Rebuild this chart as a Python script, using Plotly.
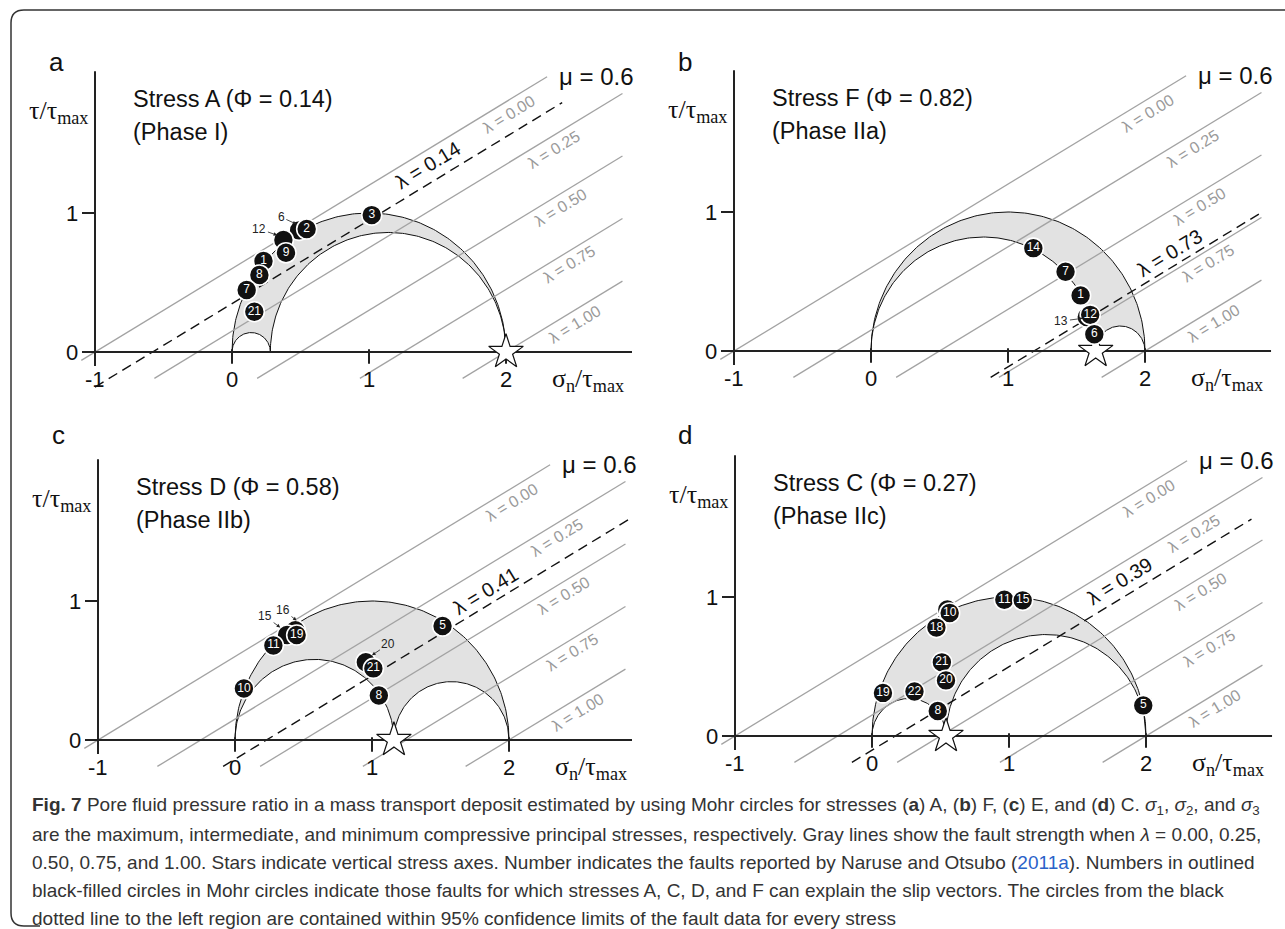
import numpy as np
import plotly.graph_objects as go

W, H = 1285, 929

# ---------------- data ----------------
panel_letters = ['a', 'b', 'c', 'd']
stress_names = ['A', 'F', 'D', 'C']
phi_values = [0.14, 0.82, 0.58, 0.27]
phase_names = ['I', 'IIa', 'IIb', 'IIc']
lambda_fit = [0.14, 0.73, 0.41, 0.39]
star_sigma = [2.0, 1.64, 1.16, 0.54]
lambda_grid = [0.00, 0.25, 0.50, 0.75, 1.00]
mu = 0.6
x_ticks = [-1, 0, 1, 2]
y_ticks = [0, 1]

# faults (label, sigma_n, tau); '' = number given by call-out
a_ids = ['', '2', '', '9', '1', '8', '7', '21', '3']
a_x = [0.49, 0.545, 0.375, 0.394, 0.23, 0.20, 0.107, 0.163, 1.02]
a_y = [0.875, 0.885, 0.806, 0.714, 0.655, 0.554, 0.446, 0.29, 0.985]

b_ids = ['14', '7', '1', '', '12', '6']
b_x = [1.185, 1.42, 1.53, 1.575, 1.60, 1.63]
b_y = [0.74, 0.57, 0.40, 0.245, 0.26, 0.12]

c_ids = ['', '', '19', '11', '10', '5', '', '21', '8']
c_x = [0.44, 0.38, 0.45, 0.28, 0.065, 1.515, 0.955, 1.01, 1.05]
c_y = [0.79, 0.755, 0.755, 0.68, 0.37, 0.82, 0.56, 0.515, 0.32]

d_ids = ['', '10', '18', '11', '15', '21', '20', '22', '19', '8', '5']
d_x = [0.55, 0.567, 0.47, 0.966, 1.10, 0.51, 0.54, 0.31, 0.08, 0.48, 1.98]
d_y = [0.91, 0.885, 0.78, 0.98, 0.976, 0.53, 0.40, 0.32, 0.31, 0.18, 0.22]

# call-outs: (label, text x, text y, head x, head y)
a_callouts = [('6', 0.36, 0.97, 0.47, 0.92), ('12', 0.20, 0.885, 0.33, 0.84)]
b_callouts = [('13', 1.39, 0.215, 1.545, 0.235)]
c_callouts = [('15', 0.22, 0.89, 0.33, 0.81), ('16', 0.35, 0.935, 0.45, 0.86),
              ('20', 1.12, 0.69, 1.0, 0.61)]
d_callouts = []

fault_ids = [a_ids, b_ids, c_ids, d_ids]
fault_x = [a_x, b_x, c_x, d_x]
fault_y = [a_y, b_y, c_y, d_y]
callouts = [a_callouts, b_callouts, c_callouts, d_callouts]

# ---------------- geometry / style ----------------
KX, KY = 137.0, 139.0
origins = [(232, 352), (871, 351), (235, 740), (872, 736)]
boxes = [(15, 632, 20, 402), (640, 1280, 20, 402), (15, 632, 405, 792), (640, 1280, 405, 792)]
letter_px = [(47, 45), (685, 45), (50, 435), (685, 435)]

SANS = 'Liberation Sans, Arial, sans-serif'
SERIF = 'Liberation Serif, Times New Roman, serif'
GRAY = '#a3a3a3'
ANG = -np.degrees(np.arctan(mu * KY / KX))

# lambda grid lines: tau = mu * (sigma - (LAM0 + LAMSPAN*lambda))
LAM0, LAMSPAN = -1.0, 3.0
label_x = [2.02, 2.35, 2.40, 2.46, 2.50]
dash_start = [-1.0, None, None, None]
dash_end = [2.41, 2.86, 2.90, 2.77]
fit_label_x = [1.43, 2.18, 1.83, 1.81]
fit_label_dy = [0.14, 0.11, 0.11, 0.13]

fig = go.Figure()
annotations = []
layout_axes = {}

for i in range(4):
    xa = 'x' if i == 0 else f'x{i+1}'
    ya = 'y' if i == 0 else f'y{i+1}'
    ox, oy = origins[i]
    L, R, T, B = boxes[i]
    layout_axes['xaxis' if i == 0 else f'xaxis{i+1}'] = dict(
        domain=[L / W, R / W], range=[(L - ox) / KX, (R - ox) / KX],
        visible=False, anchor=ya, fixedrange=True)
    layout_axes['yaxis' if i == 0 else f'yaxis{i+1}'] = dict(
        domain=[1 - B / H, 1 - T / H], range=[(oy - B) / KY, (oy - T) / KY],
        visible=False, anchor=xa, fixedrange=True)

    phi = phi_values[i]
    # shaded Mohr region
    th = np.linspace(np.pi, 0, 181)
    th2 = np.linspace(0, np.pi, 181)
    c2, r2 = 1 + phi, 1 - phi
    c1, r1 = phi, phi
    px = np.concatenate([1 + np.cos(th), c2 + r2 * np.cos(th2), c1 + r1 * np.cos(th2)])
    py = np.concatenate([np.sin(th), r2 * np.sin(th2), r1 * np.sin(th2)])
    fig.add_trace(go.Scatter(x=px, y=py, mode='lines', fill='toself',
                             fillcolor='#e2e2e2', line=dict(color='#111', width=1),
                             xaxis=xa, yaxis=ya, hoverinfo='skip', showlegend=False))

    # gray lambda lines
    for k, lam in enumerate(lambda_grid):
        s0 = LAM0 + LAMSPAN * lam
        if lam == 0:
            xs, xe = -1.1, 2.3
        else:
            xs, xe = s0 - 0.19 / mu, 2.85
        fig.add_trace(go.Scatter(x=[xs, xe], y=[mu * (xs - s0), mu * (xe - s0)],
                                 mode='lines', line=dict(color=GRAY, width=1.3),
                                 xaxis=xa, yaxis=ya, hoverinfo='skip', showlegend=False))
        lx = label_x[k]
        annotations.append(dict(x=lx, y=mu * (lx - s0) - 0.1, xref=xa, yref=ya,
                                text=f'λ = {lam:.2f}', showarrow=False, textangle=ANG,
                                font=dict(family=SANS, size=16, color='#9a9a9a')))

    # dashed fitted line
    lf = lambda_fit[i]
    s0 = LAM0 + LAMSPAN * lf
    xs = dash_start[i] if dash_start[i] is not None else s0 - 0.19 / mu
    xe = dash_end[i]
    fig.add_trace(go.Scatter(x=[xs, xe], y=[mu * (xs - s0), mu * (xe - s0)],
                             mode='lines', line=dict(color='#111', width=1.4, dash='10px,6px'),
                             xaxis=xa, yaxis=ya, hoverinfo='skip', showlegend=False))
    fx = fit_label_x[i]
    annotations.append(dict(x=fx, y=mu * (fx - s0) + fit_label_dy[i], xref=xa, yref=ya,
                            text=f'λ = {lf:.2f}', showarrow=False, textangle=ANG,
                            font=dict(family=SANS, size=20, color='#111')))

    # axes
    ax_x = [-1.095, 2.92, None, -1, -1, None]
    ax_y = [0, 0, None, -0.1, 2.02, None]
    for t in x_ticks[1:]:
        ax_x += [t, t, None]
        ax_y += [0.02, -0.085, None]
    for t in y_ticks[1:]:
        ax_x += [-1.095, -1, None]
        ax_y += [t, t, None]
    fig.add_trace(go.Scatter(x=ax_x, y=ax_y, mode='lines', line=dict(color='#222', width=2),
                             xaxis=xa, yaxis=ya, hoverinfo='skip', showlegend=False))
    for t in x_ticks:
        annotations.append(dict(x=t, y=-0.2, xref=xa, yref=ya, text=str(t), showarrow=False,
                                font=dict(family=SANS, size=22, color='#111')))
    for t in y_ticks:
        annotations.append(dict(x=-1.11, y=t, xref=xa, yref=ya, text=str(t), showarrow=False,
                                xanchor='right', font=dict(family=SANS, size=22, color='#111')))

    # star
    fig.add_trace(go.Scatter(x=[star_sigma[i]], y=[0.0], mode='markers',
                             marker=dict(symbol='star', size=26, color='white',
                                         line=dict(color='#111', width=1.2)),
                             xaxis=xa, yaxis=ya, hoverinfo='skip', showlegend=False))

    # faults
    fig.add_trace(go.Scatter(x=fault_x[i], y=fault_y[i], mode='markers+text',
                             text=fault_ids[i], textposition='middle center',
                             textfont=dict(family=SANS, size=12, color='white'),
                             marker=dict(size=20, color='#111', line=dict(color='white', width=1.6)),
                             xaxis=xa, yaxis=ya, hoverinfo='skip', showlegend=False))
    for (lab, tx, ty, hx, hy) in callouts[i]:
        annotations.append(dict(x=hx, y=hy, ax=tx, ay=ty, xref=xa, yref=ya, axref=xa, ayref=ya,
                                text=lab, showarrow=True, arrowhead=2, arrowsize=0.9,
                                arrowwidth=0.8, arrowcolor='#222', standoff=0,
                                font=dict(family=SANS, size=12, color='#222')))

    # texts
    annotations.append(dict(x=2.37, y=1.98, xref=xa, yref=ya, text='μ = 0.6', showarrow=False,
                            xanchor='left', font=dict(family=SANS, size=24, color='#111')))
    annotations.append(dict(x=-0.74, y=1.82, xref=xa, yref=ya,
                            text=f'Stress {stress_names[i]} (Φ = {phi:.2f})', showarrow=False,
                            xanchor='left', font=dict(family=SANS, size=23.5, color='#111')))
    annotations.append(dict(x=-0.74, y=1.58, xref=xa, yref=ya, text=f'(Phase {phase_names[i]})',
                            showarrow=False, xanchor='left',
                            font=dict(family=SANS, size=23.5, color='#111')))
    annotations.append(dict(x=-1.04, y=1.73, xref=xa, yref=ya,
                            text='τ/τ<sub>max</sub>', showarrow=False, xanchor='right',
                            font=dict(family=SERIF, size=26, color='#111')))
    annotations.append(dict(x=2.32, y=-0.2, xref=xa, yref=ya,
                            text='σ<sub>n</sub>/τ<sub>max</sub>', showarrow=False, xanchor='left',
                            font=dict(family=SERIF, size=26, color='#111')))
    lx, ly = letter_px[i]
    annotations.append(dict(x=lx / W, y=1 - ly / H, xref='paper', yref='paper',
                            text=panel_letters[i], showarrow=False,
                            font=dict(family=SANS, size=26, color='#111')))

# caption
CAP = 'Liberation Sans, Arial, sans-serif'
blue = "<span style='color:#2a62c9'>2011a</span>"
caption_lines = [
    "<b>Fig. 7</b> Pore fluid pressure ratio in a mass transport deposit estimated by using Mohr circles for stresses (<b>a</b>) A, (<b>b</b>) F, (<b>c</b>) E, and (<b>d</b>) C. <i>σ</i><sub>1</sub>, <i>σ</i><sub>2</sub>, and <i>σ</i><sub>3</sub>",
    "are the maximum, intermediate, and minimum compressive principal stresses, respectively. Gray lines show the fault strength when <i>λ</i> = 0.00, 0.25,",
    f"0.50, 0.75, and 1.00. Stars indicate vertical stress axes. Number indicates the faults reported by Naruse and Otsubo ({blue}). Numbers in outlined",
    "black-filled circles in Mohr circles indicate those faults for which stresses A, C, D, and F can explain the slip vectors. The circles from the black",
    "dotted line to the left region are contained within 95% confidence limits of the fault data for every stress",
]
cap_y = [806, 834, 862, 890, 918]
for line, yy in zip(caption_lines, cap_y):
    annotations.append(dict(x=30 / W, y=1 - yy / H, xref='paper', yref='paper', text=line,
                            showarrow=False, xanchor='left', yanchor='middle',
                            font=dict(family=CAP, size=19, color='#333')))

shapes = [dict(type='path', xref='paper', yref='paper', layer='above',
               path=f'M 1 {1-10/H} L {24/W} {1-10/H} Q {11/W} {1-10/H} {11/W} {1-23/H} '
                    f'L {11/W} {1-913/H} Q {11/W} {1-926/H} {24/W} {1-926/H} L {40/W} {1-926/H}',
               line=dict(color='#333', width=1.5))]

fig.update_layout(width=W, height=H, margin=dict(l=0, r=0, t=0, b=0),
                  paper_bgcolor='white', plot_bgcolor='rgba(0,0,0,0)',
                  annotations=annotations, shapes=shapes, **layout_axes)
fig.write_html('out.html', config={'displayModeBar': False},
               post_script="document.body.style.margin='0px';document.body.style.overflow='hidden';")
